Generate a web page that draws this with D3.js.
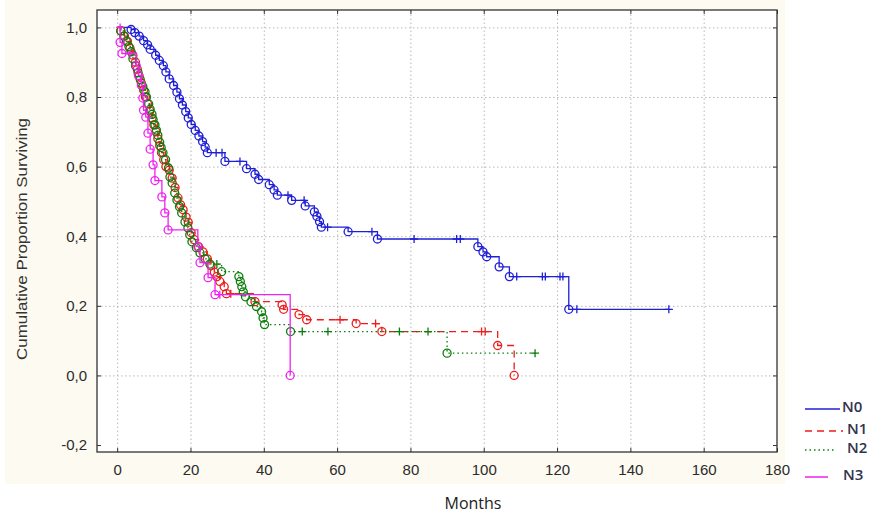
<!DOCTYPE html>
<html>
<head>
<meta charset="utf-8">
<script src="https://cdn.jsdelivr.net/npm/d3@7"></script>
<style>
  body { margin: 0; background: #fff; }
  svg { display: block; }
  .grid line { stroke: #b8b8b8; stroke-dasharray: 1.5,2.5; }
  .grid path { display: none; }
  .tk line { stroke: #333; }
  .tk path { display: none; }
</style>
</head>
<body>
<div id="chart"></div>
<script>
// survival times (months), survival after each event, censored flag (1 = censored "+")
var n0Time = [3.8,4.8,6.0,7.2,8.3,9.0,10.5,11.5,12.6,13.3,14.2,15.4,16.3,17.0,17.8,18.7,19.4,20.2,21.3,22.3,23.3,24.0,24.6,27.0,28.6,29.4,33.5,35.3,37.6,38.6,41.5,42.8,43.7,46.6,47.6,51.0,51.3,53.8,54.5,55.2,55.7,57.4,63.0,69.5,71.0,81.0,92.6,93.6,98.4,99.8,100.8,104.2,107.0,109.0,116.0,116.8,120.8,121.6,123.2,125.4,150.5];
var n0Surv = [0.994,0.985,0.975,0.962,0.950,0.937,0.920,0.905,0.890,0.872,0.852,0.833,0.814,0.795,0.777,0.758,0.740,0.721,0.704,0.688,0.672,0.656,0.640,0.640,0.640,0.615,0.615,0.594,0.578,0.563,0.548,0.533,0.518,0.518,0.503,0.503,0.487,0.470,0.457,0.442,0.426,0.426,0.413,0.413,0.392,0.392,0.392,0.392,0.370,0.355,0.341,0.312,0.284,0.284,0.284,0.284,0.284,0.284,0.190,0.190,0.190];
var n0Cens = [0,0,0,0,0,0,0,0,0,0,0,0,0,0,0,0,0,0,0,0,0,0,0,1,1,0,1,0,0,0,0,0,0,1,0,1,0,0,0,0,0,1,0,1,0,1,1,1,0,0,0,0,0,1,1,1,1,1,0,1,1];

var n1Time = [1.0,2.0,2.8,3.5,4.3,5.0,5.5,6.0,6.6,7.2,7.7,8.3,8.9,9.5,10.0,10.6,11.1,11.6,12.1,12.7,13.3,14.2,15.0,15.8,16.6,17.3,18.0,18.8,19.4,20.2,21.0,22.2,23.4,24.6,25.6,26.5,27.2,28.0,29.2,29.8,31.0,37.6,45.0,45.4,49.6,51.7,60.8,65.2,70.5,72.2,99.4,100.4,103.8,108.3];
var n1Surv = [0.99,0.975,0.96,0.94,0.92,0.90,0.88,0.86,0.84,0.82,0.80,0.78,0.76,0.74,0.72,0.70,0.68,0.66,0.64,0.62,0.60,0.59,0.567,0.54,0.51,0.49,0.476,0.455,0.44,0.41,0.39,0.37,0.355,0.335,0.315,0.297,0.284,0.27,0.255,0.235,0.235,0.212,0.203,0.19,0.175,0.16,0.16,0.149,0.149,0.126,0.126,0.126,0.086,0.0];
var n1Cens = [0,0,0,0,0,0,0,0,0,0,0,0,0,0,0,0,0,0,0,0,0,0,0,0,0,0,0,0,0,0,0,0,0,0,0,0,0,0,0,0,1,0,0,0,0,0,1,0,1,0,1,1,0,0];

var n2Time = [1.0,1.8,2.5,3.2,3.8,4.3,5.0,5.7,6.3,7.0,7.6,8.0,8.6,9.0,9.5,9.8,10.3,10.7,11.1,11.6,12.0,12.5,13.2,14.0,14.4,15.0,15.7,16.3,17.0,17.6,18.5,19.3,19.8,20.4,21.6,22.6,24.0,25.3,27.2,28.5,33.2,33.6,34.0,34.4,35.0,36.5,38.0,39.4,39.8,40.2,47.3,50.5,57.5,77.0,84.8,90.0,114.0];
var n2Surv = [0.99,0.975,0.96,0.945,0.93,0.91,0.89,0.87,0.85,0.83,0.815,0.80,0.78,0.765,0.75,0.735,0.72,0.705,0.69,0.67,0.655,0.64,0.62,0.596,0.57,0.553,0.524,0.504,0.485,0.467,0.441,0.424,0.404,0.384,0.367,0.352,0.335,0.32,0.32,0.298,0.284,0.27,0.255,0.24,0.226,0.212,0.198,0.183,0.165,0.146,0.126,0.126,0.126,0.126,0.126,0.064,0.064];
var n2Cens = [0,0,0,0,0,0,0,0,0,0,0,0,0,0,0,0,0,0,0,0,0,0,0,0,0,0,0,0,0,0,0,0,0,0,0,0,0,0,1,0,0,0,0,0,0,0,0,0,0,0,0,1,1,1,1,0,1];

var n3Time = [0.8,0.8,1.3,3.5,5.2,5.8,6.6,7.0,7.2,7.8,8.4,9.0,9.8,10.3,12.2,13.0,13.9,22.0,22.6,24.8,26.7,28.0,47.2];
var n3Surv = [1.0,0.957,0.925,0.925,0.89,0.862,0.834,0.797,0.762,0.742,0.696,0.65,0.605,0.56,0.513,0.467,0.418,0.37,0.324,0.281,0.232,0.232,0.0];
var n3Cens = [1,0,0,1,0,0,0,0,0,0,0,0,0,0,0,0,0,0,0,0,0,1,0];

var seriesNames = ["N0","N1","N2","N3"];
var seriesColors = ["#1f1fd6","#ee1c1c","#0a7d0a","#ee22ee"];
var seriesDash = ["none","7,5","1.5,3","none"];

var xTicks = [0,20,40,60,80,100,120,140,160,180];
var yTicks = [-0.2,0,0.2,0.4,0.6,0.8,1.0];

function drawChart() {
    var width = 871, height = 517;
    var left = 97, right = 777, top = 10, bottom = 452;

    var svg = d3.select("#chart").append("svg")
        .attr("width", width)
        .attr("height", height);

    svg.append("rect").attr("x", 5).attr("y", 0).attr("width", 780).attr("height", 484)
        .attr("fill", "#fcfaf1");
    svg.append("rect").attr("x", left).attr("y", top).attr("width", right - left).attr("height", bottom - top)
        .attr("fill", "#fff");

    var x = d3.scaleLinear().domain([-5.5, 180]).range([left, right]);
    var y = d3.scaleLinear().domain([-0.22, 1.05]).range([bottom, top]);

    var fmt = function(d){ return d3.format(".1f")(d).replace(".", ",").replace("\u2212", "-"); };

    // grid
    svg.append("g").attr("class", "grid")
        .attr("transform", "translate(0," + bottom + ")")
        .call(d3.axisBottom(x).tickValues(xTicks.slice(0, -1)).tickSize(-(bottom - top)).tickFormat(""));
    svg.append("g").attr("class", "grid")
        .attr("transform", "translate(" + left + ",0)")
        .call(d3.axisLeft(y).tickValues(yTicks.slice(1)).tickSize(-(right - left)).tickFormat(""));

    // axes, ticks pointing inward
    svg.append("g").attr("class", "tk")
        .attr("transform", "translate(0," + bottom + ")")
        .call(d3.axisBottom(x).tickValues(xTicks).tickSizeInner(-4).tickSizeOuter(0).tickPadding(12).tickFormat(d3.format("d")));
    svg.append("g").attr("class", "tk")
        .attr("transform", "translate(0," + top + ")")
        .call(d3.axisTop(x).tickValues(xTicks).tickSizeInner(-4).tickSizeOuter(0).tickFormat(""));
    svg.append("g").attr("class", "tk")
        .attr("transform", "translate(" + left + ",0)")
        .call(d3.axisLeft(y).tickValues(yTicks).tickSizeInner(-4).tickSizeOuter(0).tickPadding(10).tickFormat(fmt));
    svg.append("g").attr("class", "tk")
        .attr("transform", "translate(" + right + ",0)")
        .call(d3.axisRight(y).tickValues(yTicks).tickSizeInner(-4).tickSizeOuter(0).tickFormat(""));

    svg.selectAll(".tk text")
        .attr("font-family", "'Liberation Sans', Arial, sans-serif")
        .attr("font-size", 15)
        .attr("fill", "#2b2b2b");

    svg.append("rect").attr("x", left).attr("y", top).attr("width", right - left).attr("height", bottom - top)
        .attr("fill", "none").attr("stroke", "#333").attr("stroke-width", 1.3);

    // curves
    var allTime = [n0Time, n1Time, n2Time, n3Time];
    var allSurv = [n0Surv, n1Surv, n2Surv, n3Surv];
    var allCens = [n0Cens, n1Cens, n2Cens, n3Cens];

    var line = d3.line().x(function(d){ return x(d.t); }).y(function(d){ return y(d.s); }).curve(d3.curveStepAfter);

    seriesNames.forEach(function(name, k){
        var pts = [{t: 0, s: 1, c: 1}];
        allTime[k].forEach(function(t, i){ pts.push({t: t, s: allSurv[k][i], c: allCens[k][i]}); });
        var g = svg.append("g").attr("class", "series");
        g.append("path").datum(pts)
            .attr("d", line)
            .attr("fill", "none")
            .attr("stroke", seriesColors[k])
            .attr("stroke-width", 1.3)
            .attr("stroke-dasharray", seriesDash[k]);
        g.selectAll("circle").data(pts.slice(1).filter(function(d){ return !d.c; }))
            .enter().append("circle")
            .attr("cx", function(d){ return x(d.t); })
            .attr("cy", function(d){ return y(d.s); })
            .attr("r", 4)
            .attr("fill", "none")
            .attr("stroke", seriesColors[k])
            .attr("stroke-width", 1.3);
        g.selectAll("path.cens").data(pts.slice(1).filter(function(d){ return d.c; }))
            .enter().append("path")
            .attr("class", "cens")
            .attr("d", function(d){
                var cx = x(d.t), cy = y(d.s);
                return "M" + (cx - 4) + "," + cy + "H" + (cx + 4) + "M" + cx + "," + (cy - 4) + "V" + (cy + 4);
            })
            .attr("stroke", seriesColors[k])
            .attr("stroke-width", 1.3);
    });

    // axis titles
    svg.append("text")
        .attr("transform", "translate(27," + ((top + bottom) / 2 + 8) + ") rotate(-90)")
        .attr("text-anchor", "middle")
        .attr("font-family", "'Liberation Sans', Arial, sans-serif")
        .attr("font-size", 14)
        .attr("fill", "#333")
        .attr("textLength", 242)
        .attr("lengthAdjust", "spacingAndGlyphs")
        .text("Cumulative Proportion Surviving");

    svg.append("text")
        .attr("x", 473).attr("y", 509)
        .attr("text-anchor", "middle")
        .attr("font-family", "'Open Sans', sans-serif")
        .attr("font-size", 16)
        .attr("fill", "#222")
        .text("Months");

    // legend
    var legY = [409, 431, 450, 477];
    var legLineEnd = [840, 843, 835, 828];
    var legTextX = [842, 847, 847, 843];
    var leg = svg.append("g").attr("class", "legend");
    seriesNames.forEach(function(name, k){
        leg.append("line")
            .attr("x1", 805).attr("x2", legLineEnd[k])
            .attr("y1", legY[k]).attr("y2", legY[k])
            .attr("stroke", seriesColors[k])
            .attr("stroke-width", 1.5)
            .attr("stroke-dasharray", seriesDash[k]);
        leg.append("text")
            .attr("x", legTextX[k]).attr("y", legY[k] - 2)
            .attr("dy", "0.35em")
            .attr("font-family", "'Open Sans', sans-serif")
            .attr("font-weight", 600)
            .attr("font-size", 15)
            .attr("fill", "#33334d")
            .text(name);
    });
}

drawChart();
</script>
</body>
</html>
